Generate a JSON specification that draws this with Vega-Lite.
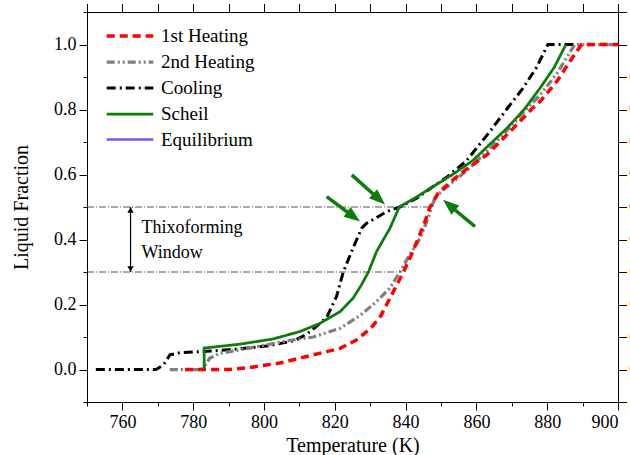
{
  "$schema": "https://vega.github.io/schema/vega-lite/v6.json",
  "width": 531,
  "height": 390,
  "autosize": {"type": "none"},
  "padding": {"left": 87, "top": 12, "right": 12, "bottom": 53},
  "background": "white",
  "config": {
    "view": {"stroke": "black", "strokeWidth": 1},
    "font": "Liberation Serif",
    "axis": {
      "domainColor": "black", "tickColor": "black", "labelColor": "black", "titleColor": "black",
      "labelFont": "Liberation Serif", "titleFont": "Liberation Serif",
      "labelFontSize": 18, "titleFontSize": 20, "titleFontWeight": "normal",
      "grid": false, "tickSize": 8, "labelPadding": 3, "domainWidth": 1, "tickWidth": 1
    },
    "legend": {"labelFont": "Liberation Serif"},
    "text": {"font": "Liberation Serif"}
  },
  "datasets": {
    "curves": [
      {"s": "Cooling", "i": 0, "t": 752.5, "f": 0},
      {"s": "Cooling", "i": 1, "t": 769.5, "f": 0},
      {"s": "Cooling", "i": 2, "t": 771.6, "f": 0.014},
      {"s": "Cooling", "i": 3, "t": 773.4, "f": 0.045},
      {"s": "Cooling", "i": 4, "t": 776.3, "f": 0.052},
      {"s": "Cooling", "i": 5, "t": 783.8, "f": 0.056},
      {"s": "Cooling", "i": 6, "t": 791.3, "f": 0.062},
      {"s": "Cooling", "i": 7, "t": 800.8, "f": 0.072},
      {"s": "Cooling", "i": 8, "t": 808.3, "f": 0.088},
      {"s": "Cooling", "i": 9, "t": 812.0, "f": 0.108},
      {"s": "Cooling", "i": 10, "t": 814.5, "f": 0.13},
      {"s": "Cooling", "i": 11, "t": 817.7, "f": 0.16},
      {"s": "Cooling", "i": 12, "t": 820.5, "f": 0.225},
      {"s": "Cooling", "i": 13, "t": 822.4, "f": 0.30},
      {"s": "Cooling", "i": 14, "t": 825.0, "f": 0.37},
      {"s": "Cooling", "i": 15, "t": 827.6, "f": 0.435},
      {"s": "Cooling", "i": 16, "t": 829.0, "f": 0.45},
      {"s": "Cooling", "i": 17, "t": 834.7, "f": 0.486},
      {"s": "Cooling", "i": 18, "t": 838.4, "f": 0.50},
      {"s": "Cooling", "i": 19, "t": 843.1, "f": 0.527},
      {"s": "Cooling", "i": 20, "t": 847.8, "f": 0.563},
      {"s": "Cooling", "i": 21, "t": 852.0, "f": 0.595},
      {"s": "Cooling", "i": 22, "t": 857.0, "f": 0.64},
      {"s": "Cooling", "i": 23, "t": 863.8, "f": 0.732},
      {"s": "Cooling", "i": 24, "t": 868.5, "f": 0.80},
      {"s": "Cooling", "i": 25, "t": 873.2, "f": 0.866},
      {"s": "Cooling", "i": 26, "t": 877.0, "f": 0.93},
      {"s": "Cooling", "i": 27, "t": 880.2, "f": 1.0},
      {"s": "Cooling", "i": 28, "t": 889.0, "f": 1.0},
      {"s": "2nd Heating", "i": 0, "t": 773.4, "f": 0},
      {"s": "2nd Heating", "i": 1, "t": 782.5, "f": 0},
      {"s": "2nd Heating", "i": 2, "t": 784.7, "f": 0.035},
      {"s": "2nd Heating", "i": 3, "t": 787.6, "f": 0.05},
      {"s": "2nd Heating", "i": 4, "t": 796.0, "f": 0.066},
      {"s": "2nd Heating", "i": 5, "t": 805.5, "f": 0.086},
      {"s": "2nd Heating", "i": 6, "t": 813.9, "f": 0.10},
      {"s": "2nd Heating", "i": 7, "t": 821.5, "f": 0.127},
      {"s": "2nd Heating", "i": 8, "t": 827.0, "f": 0.165},
      {"s": "2nd Heating", "i": 9, "t": 831.8, "f": 0.209},
      {"s": "2nd Heating", "i": 10, "t": 835.5, "f": 0.25},
      {"s": "2nd Heating", "i": 11, "t": 838.4, "f": 0.30},
      {"s": "2nd Heating", "i": 12, "t": 841.0, "f": 0.35},
      {"s": "2nd Heating", "i": 13, "t": 844.1, "f": 0.404},
      {"s": "2nd Heating", "i": 14, "t": 846.5, "f": 0.47},
      {"s": "2nd Heating", "i": 15, "t": 848.3, "f": 0.53},
      {"s": "2nd Heating", "i": 16, "t": 852.0, "f": 0.565},
      {"s": "2nd Heating", "i": 17, "t": 857.0, "f": 0.61},
      {"s": "2nd Heating", "i": 18, "t": 862.9, "f": 0.67},
      {"s": "2nd Heating", "i": 19, "t": 868.6, "f": 0.735},
      {"s": "2nd Heating", "i": 20, "t": 874.0, "f": 0.80},
      {"s": "2nd Heating", "i": 21, "t": 878.0, "f": 0.845},
      {"s": "2nd Heating", "i": 22, "t": 882.7, "f": 0.91},
      {"s": "2nd Heating", "i": 23, "t": 885.5, "f": 0.96},
      {"s": "2nd Heating", "i": 24, "t": 887.8, "f": 1.0},
      {"s": "2nd Heating", "i": 25, "t": 900.0, "f": 1.0},
      {"s": "1st Heating", "i": 0, "t": 777.7, "f": 0},
      {"s": "1st Heating", "i": 1, "t": 790.0, "f": 0},
      {"s": "1st Heating", "i": 2, "t": 796.0, "f": 0.006},
      {"s": "1st Heating", "i": 3, "t": 804.5, "f": 0.02},
      {"s": "1st Heating", "i": 4, "t": 812.0, "f": 0.04},
      {"s": "1st Heating", "i": 5, "t": 817.7, "f": 0.055},
      {"s": "1st Heating", "i": 6, "t": 821.5, "f": 0.065},
      {"s": "1st Heating", "i": 7, "t": 826.0, "f": 0.09},
      {"s": "1st Heating", "i": 8, "t": 830.0, "f": 0.125},
      {"s": "1st Heating", "i": 9, "t": 833.0, "f": 0.165},
      {"s": "1st Heating", "i": 10, "t": 835.6, "f": 0.22},
      {"s": "1st Heating", "i": 11, "t": 837.5, "f": 0.26},
      {"s": "1st Heating", "i": 12, "t": 839.4, "f": 0.30},
      {"s": "1st Heating", "i": 13, "t": 841.5, "f": 0.35},
      {"s": "1st Heating", "i": 14, "t": 843.6, "f": 0.404},
      {"s": "1st Heating", "i": 15, "t": 845.3, "f": 0.45},
      {"s": "1st Heating", "i": 16, "t": 846.9, "f": 0.50},
      {"s": "1st Heating", "i": 17, "t": 849.2, "f": 0.543},
      {"s": "1st Heating", "i": 18, "t": 853.0, "f": 0.58},
      {"s": "1st Heating", "i": 19, "t": 857.0, "f": 0.615},
      {"s": "1st Heating", "i": 20, "t": 862.9, "f": 0.66},
      {"s": "1st Heating", "i": 21, "t": 868.6, "f": 0.722},
      {"s": "1st Heating", "i": 22, "t": 872.0, "f": 0.76},
      {"s": "1st Heating", "i": 23, "t": 875.5, "f": 0.80},
      {"s": "1st Heating", "i": 24, "t": 878.0, "f": 0.825},
      {"s": "1st Heating", "i": 25, "t": 882.7, "f": 0.886},
      {"s": "1st Heating", "i": 26, "t": 886.4, "f": 0.948},
      {"s": "1st Heating", "i": 27, "t": 889.7, "f": 1.0},
      {"s": "1st Heating", "i": 28, "t": 900.0, "f": 1.0},
      {"s": "Scheil", "i": 0, "t": 783.1, "f": 0},
      {"s": "Scheil", "i": 1, "t": 783.1, "f": 0.066},
      {"s": "Scheil", "i": 2, "t": 793.2, "f": 0.078},
      {"s": "Scheil", "i": 3, "t": 802.6, "f": 0.094},
      {"s": "Scheil", "i": 4, "t": 810.2, "f": 0.117},
      {"s": "Scheil", "i": 5, "t": 815.8, "f": 0.142},
      {"s": "Scheil", "i": 6, "t": 821.5, "f": 0.178},
      {"s": "Scheil", "i": 7, "t": 825.2, "f": 0.22},
      {"s": "Scheil", "i": 8, "t": 827.5, "f": 0.26},
      {"s": "Scheil", "i": 9, "t": 829.5, "f": 0.30},
      {"s": "Scheil", "i": 10, "t": 831.8, "f": 0.363},
      {"s": "Scheil", "i": 11, "t": 835.6, "f": 0.435},
      {"s": "Scheil", "i": 12, "t": 837.2, "f": 0.475},
      {"s": "Scheil", "i": 13, "t": 838.2, "f": 0.50},
      {"s": "Scheil", "i": 14, "t": 843.0, "f": 0.53},
      {"s": "Scheil", "i": 15, "t": 847.8, "f": 0.563},
      {"s": "Scheil", "i": 16, "t": 853.0, "f": 0.598},
      {"s": "Scheil", "i": 17, "t": 859.0, "f": 0.643},
      {"s": "Scheil", "i": 18, "t": 863.5, "f": 0.69},
      {"s": "Scheil", "i": 19, "t": 868.6, "f": 0.742},
      {"s": "Scheil", "i": 20, "t": 873.5, "f": 0.80},
      {"s": "Scheil", "i": 21, "t": 878.0, "f": 0.866},
      {"s": "Scheil", "i": 22, "t": 882.0, "f": 0.93},
      {"s": "Scheil", "i": 23, "t": 885.3, "f": 1.0}
    ],
    "hlines": [
      {"f": 0.5, "t1": 750, "t2": 846.5},
      {"f": 0.3, "t1": 750, "t2": 838.5}
    ],
    "darrow": [{"t": 762.3, "f1": 0.3, "f2": 0.5, "top": 0.491, "bot": 0.309}],
    "labels": [
      {"t": 765.4, "f": 0.435, "txt": "Thixoforming"},
      {"t": 765.4, "f": 0.358, "txt": "Window"}
    ],
    "arrows": [
      {"id": 1, "t1": 824.8, "f1": 0.599, "t2": 832.5, "f2": 0.524},
      {"id": 2, "t1": 817.7, "f1": 0.532, "t2": 825.3, "f2": 0.470},
      {"id": 3, "t1": 859.6, "f1": 0.44, "t2": 852.3, "f2": 0.506}
    ]
  },
  "layer": [
    {
      "data": {"name": "hlines"},
      "mark": {"type": "rule", "color": "#555555", "strokeWidth": 1, "strokeDash": [7, 2, 1, 2]},
      "encoding": {
        "x": {"field": "t1", "type": "quantitative", "scale": {"domain": [750, 900], "nice": false, "zero": false},
              "axis": {"values": [750, 760, 770, 780, 790, 800, 810, 820, 830, 840, 850, 860, 870, 880, 890, 900], "labels": false, "tickSize": 4, "domain": false, "title": null, "orient": "bottom"}},
        "x2": {"field": "t2"},
        "y": {"field": "f", "type": "quantitative", "scale": {"domain": [-0.1, 1.1], "nice": false, "zero": false},
              "axis": {"values": [-0.1, 0, 0.1, 0.2, 0.3, 0.4, 0.5, 0.6, 0.7, 0.8, 0.9, 1.0, 1.1], "labels": false, "tickSize": 4, "domain": false, "title": null, "orient": "left"}}
      }
    },
    {
      "data": {"name": "curves"},
      "mark": {"type": "line", "strokeCap": "butt"},
      "encoding": {
        "x": {"field": "t", "type": "quantitative", "scale": {"domain": [750, 900], "nice": false, "zero": false},
              "axis": {"values": [760, 780, 800, 820, 840, 860, 880, 900], "format": "d", "title": "Temperature (K)", "titlePadding": 4, "orient": "bottom"}},
        "y": {"field": "f", "type": "quantitative", "scale": {"domain": [-0.1, 1.1], "nice": false, "zero": false},
              "axis": {"values": [0, 0.2, 0.4, 0.6, 0.8, 1.0], "format": ".1f", "title": "Liquid Fraction", "titlePadding": 22, "orient": "left"}},
        "order": {"field": "i", "type": "quantitative"},
        "color": {"field": "s", "type": "nominal", "title": null,
                  "scale": {"domain": ["1st Heating", "2nd Heating", "Cooling", "Scheil", "Equilibrium"],
                            "range": ["#ff0000", "#7f7f7f", "#000000", "#0c7c0c", "#6a5cff"]},
                  "legend": {"orient": "none", "legendX": 29, "legendY": 10, "symbolType": "M-1.9,0H1.9", "symbolSize": 600,
                             "labelFont": "Liberation Serif", "labelFontSize": 19, "labelColor": "black", "labelOffset": 17,
                             "rowPadding": 2, "padding": 0, "labelLimit": 300}},
        "strokeDash": {"field": "s", "type": "nominal", "title": null,
                       "scale": {"domain": ["1st Heating", "2nd Heating", "Cooling", "Scheil", "Equilibrium"],
                                 "range": [[8, 5], [8, 3, 2, 3, 2, 3], [9, 4, 2, 4], [1, 0], [1, 0]]}},
        "strokeWidth": {"field": "s", "type": "nominal", "title": null,
                        "scale": {"domain": ["1st Heating", "2nd Heating", "Cooling", "Scheil", "Equilibrium"],
                                  "range": [3.5, 2.5, 2.5, 3.5, 1.5]}}
      }
    },
    {
      "data": {"name": "darrow"},
      "mark": {"type": "rule", "color": "black", "strokeWidth": 1.2},
      "encoding": {
        "x": {"field": "t", "type": "quantitative"},
        "y": {"field": "f1", "type": "quantitative"},
        "y2": {"field": "f2"}
      }
    },
    {
      "data": {"name": "darrow"},
      "mark": {"type": "point", "shape": "triangle-up", "filled": true, "color": "black", "size": 40, "opacity": 1},
      "encoding": {
        "x": {"field": "t", "type": "quantitative"},
        "y": {"field": "top", "type": "quantitative"}
      }
    },
    {
      "data": {"name": "darrow"},
      "mark": {"type": "point", "shape": "triangle-down", "filled": true, "color": "black", "size": 40, "opacity": 1},
      "encoding": {
        "x": {"field": "t", "type": "quantitative"},
        "y": {"field": "bot", "type": "quantitative"}
      }
    },
    {
      "data": {"name": "labels"},
      "mark": {"type": "text", "align": "left", "baseline": "middle", "font": "Liberation Serif", "fontSize": 18, "color": "black"},
      "encoding": {
        "x": {"field": "t", "type": "quantitative"},
        "y": {"field": "f", "type": "quantitative"},
        "text": {"field": "txt"}
      }
    },
    {
      "data": {"name": "arrows"},
      "mark": {"type": "rule", "color": "#0c7c0c", "strokeWidth": 3.5},
      "encoding": {
        "x": {"field": "t1", "type": "quantitative"},
        "y": {"field": "f1", "type": "quantitative"},
        "x2": {"field": "t2"},
        "y2": {"field": "f2"}
      }
    },
    {
      "data": {"name": "arrows"},
      "transform": [{"filter": "datum.id == 1"}],
      "mark": {"type": "point", "shape": "M0,-1L0.75,1L-0.75,1Z", "filled": true, "color": "#0c7c0c", "size": 260, "opacity": 1, "angle": 132},
      "encoding": {"x": {"field": "t2", "type": "quantitative"}, "y": {"field": "f2", "type": "quantitative"}}
    },
    {
      "data": {"name": "arrows"},
      "transform": [{"filter": "datum.id == 2"}],
      "mark": {"type": "point", "shape": "M0,-1L0.75,1L-0.75,1Z", "filled": true, "color": "#0c7c0c", "size": 260, "opacity": 1, "angle": 127},
      "encoding": {"x": {"field": "t2", "type": "quantitative"}, "y": {"field": "f2", "type": "quantitative"}}
    },
    {
      "data": {"name": "arrows"},
      "transform": [{"filter": "datum.id == 3"}],
      "mark": {"type": "point", "shape": "M0,-1L0.75,1L-0.75,1Z", "filled": true, "color": "#0c7c0c", "size": 260, "opacity": 1, "angle": 310},
      "encoding": {"x": {"field": "t2", "type": "quantitative"}, "y": {"field": "f2", "type": "quantitative"}}
    }
  ],
  "resolve": {"axis": {"x": "independent", "y": "independent"}}
}
